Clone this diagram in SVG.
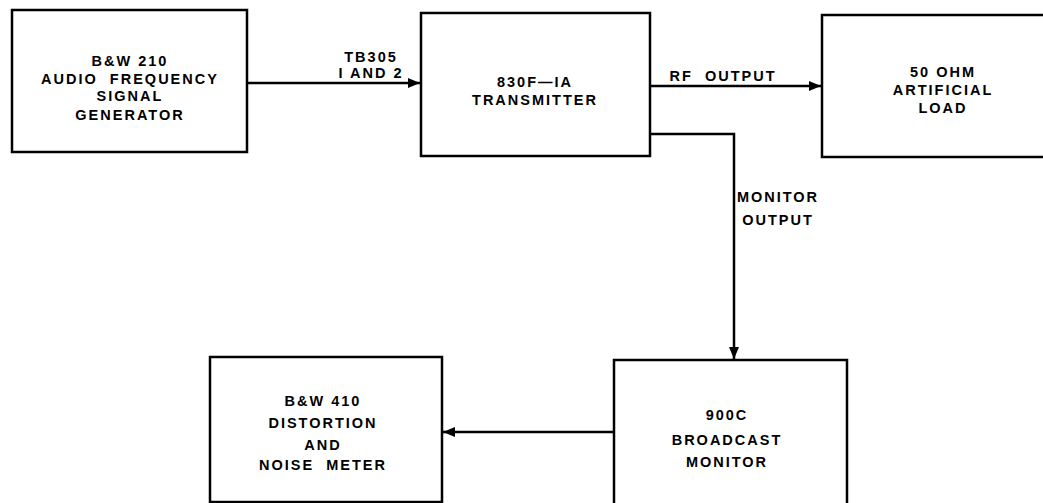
<svg xmlns="http://www.w3.org/2000/svg" width="1043" height="503" viewBox="0 0 1043 503">
<style>
.box{fill:#fff;stroke:#000;stroke-width:2.5}
.t{font-family:"Liberation Sans",Arial,sans-serif;font-weight:bold;font-size:14.5px;letter-spacing:2px;text-anchor:middle;fill:#000;white-space:pre}
.c{fill:none;stroke:#000;stroke-width:2.5}
</style>
<defs>
<marker id="ah" markerWidth="12" markerHeight="10" refX="12" refY="5" orient="auto" markerUnits="userSpaceOnUse">
<path d="M0,0 L12,5 L0,10 Z" fill="#000"/>
</marker>
</defs>
<rect width="1043" height="503" fill="#fff"/>
<g id="connectors">
<path class="c" d="M247,83 H420" marker-end="url(#ah)"/>
<path class="c" d="M650,86 H821" marker-end="url(#ah)"/>
<path class="c" d="M650,134 H734 V359" marker-end="url(#ah)"/>
<path class="c" d="M614,432 H443" marker-end="url(#ah)"/>
<text class="t" x="371" y="62">TB305</text>
<text class="t" x="371" y="78">I AND 2</text>
<text class="t" x="723" y="81">RF  OUTPUT</text>
<text class="t" x="778" y="202">MONITOR</text>
<text class="t" x="778" y="225">OUTPUT</text>
</g>
<g id="gen">
<rect class="box" x="12" y="10" width="235" height="142"/>
<text class="t" x="130" y="66">B&amp;W 210</text>
<text class="t" x="130" y="84">AUDIO  FREQUENCY</text>
<text class="t" x="130" y="101">SIGNAL</text>
<text class="t" x="130" y="120">GENERATOR</text>
</g>
<g id="tx">
<rect class="box" x="421" y="13" width="229" height="143"/>
<text class="t" x="535" y="87">830F—IA</text>
<text class="t" x="535" y="105">TRANSMITTER</text>
</g>
<g id="load">
<rect class="box" x="822" y="15" width="240" height="142"/>
<text class="t" x="943" y="77">50 OHM</text>
<text class="t" x="943" y="95">ARTIFICIAL</text>
<text class="t" x="943" y="113">LOAD</text>
</g>
<g id="dist">
<rect class="box" x="210" y="357" width="232" height="145"/>
<text class="t" x="323" y="406">B&amp;W 410</text>
<text class="t" x="323" y="428">DISTORTION</text>
<text class="t" x="323" y="450">AND</text>
<text class="t" x="323" y="470">NOISE  METER</text>
</g>
<g id="mon">
<rect class="box" x="614" y="360" width="233" height="160"/>
<text class="t" x="727" y="420">900C</text>
<text class="t" x="727" y="445">BROADCAST</text>
<text class="t" x="727" y="467">MONITOR</text>
</g>
</svg>
